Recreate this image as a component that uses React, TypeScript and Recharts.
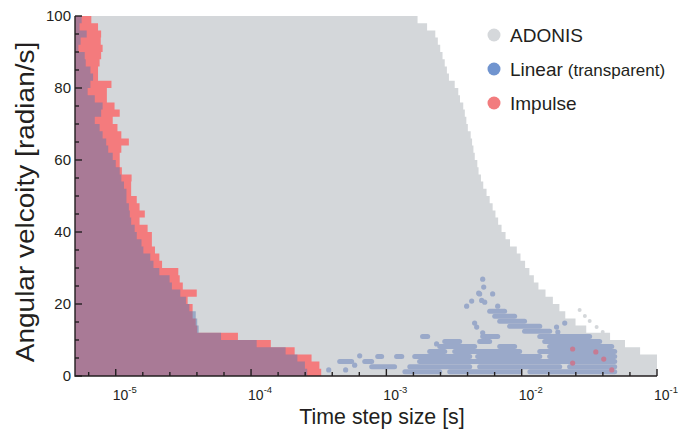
import React from 'react';
import { ComposedChart, Area, Line, Scatter, XAxis, YAxis, Legend } from 'recharts';

// angular velocity rows (each row spans v .. v+2)
const velocity = [
  0, 2, 4, 6, 8, 10, 12, 14, 16, 18, 20, 22, 24, 26, 28, 30, 32, 34, 36, 38, 40,
  42, 44, 46, 48, 50, 52, 54, 56, 58, 60, 62, 64, 66, 68, 70, 72, 74, 76, 78, 80,
  82, 84, 86, 88, 90, 92, 94, 96, 98, 100,
];

// largest stable time step per row [s]
const adonisLimit = [
  0.1, 0.1, 0.1, 0.075, 0.058, 0.045, 0.03, 0.025, 0.021, 0.019, 0.017,
  0.015, 0.0133, 0.0123, 0.0114, 0.0106, 0.0098, 0.0092, 0.0082, 0.0076, 0.0071,
  0.0067, 0.0064, 0.0061, 0.0058, 0.0055, 0.0052, 0.005, 0.0048, 0.0047, 0.0045,
  0.0044, 0.0043, 0.0042, 0.004, 0.0039, 0.0038, 0.0037, 0.0035, 0.0034, 0.0032,
  0.0029, 0.0028, 0.0027, 0.0026, 0.0025, 0.0024, 0.0023, 0.002, 0.0017, 0.0015,
];

const impulseLimit = [
  3.3e-4, 3.2e-4, 2.8e-4, 2.1e-4, 1.4e-4, 8e-5, 4.0e-5, 3.9e-5, 3.7e-5, 3.7e-5, 3.4e-5,
  3.97e-5, 3.13e-5, 2.97e-5, 2.9e-5, 2.2e-5, 2.1e-5, 1.95e-5, 1.85e-5, 1.85e-5, 1.72e-5,
  1.5e-5, 1.64e-5, 1.5e-5, 1.43e-5, 1.3e-5, 1.3e-5, 1.31e-5, 1.11e-5, 1.07e-5, 1.07e-5,
  1.1e-5, 1.25e-5, 1.1e-5, 1.03e-5, 9.5e-6, 1.07e-5, 9.8e-6, 8.6e-6, 8.6e-6, 9.3e-6,
  7.4e-6, 7.4e-6, 7.6e-6, 7.8e-6, 8.0e-6, 7.75e-6, 7.8e-6, 7.4e-6, 6.6e-6, 6.6e-6,
];

const linearLimit = [
  2.6e-4, 2.5e-4, 2.2e-4, 1.8e-4, 1.1e-4, 6e-5, 4.1e-5, 4.0e-5, 3.9e-5, 3.5e-5, 3.3e-5,
  3.0e-5, 2.6e-5, 2.5e-5, 2.1e-5, 1.9e-5, 1.8e-5, 1.6e-5, 1.55e-5, 1.43e-5, 1.38e-5,
  1.3e-5, 1.27e-5, 1.25e-5, 1.2e-5, 1.2e-5, 1.15e-5, 1.1e-5, 1.07e-5, 1.0e-5, 9.5e-6,
  8.8e-6, 8.5e-6, 8.0e-6, 7.6e-6, 7.0e-6, 7.8e-6, 8.0e-6, 7.0e-6, 6.2e-6, 6.5e-6,
  6.8e-6, 6.5e-6, 6.0e-6, 5.9e-6, 5.3e-6, 5.5e-6, 6.1e-6, 5.4e-6, 5.6e-6, 5.6e-6,
];

// stable runs of the linear method at large time steps: [velocity, from, to]
const linearStreaks: [number, number, number][] = [
  [1.2, 1.37e-3, 2.48e-3], [1.2, 2.94e-3, 9.66e-3], [1.2, 1.15e-2, 4.87e-2],
  [2.6, 7.79e-4, 1.15e-3], [2.6, 1.49e-3, 4.13e-3], [2.6, 4.89e-3, 1.91e-2], [2.6, 2.26e-2, 4.87e-2],
  [4.0, 4.52e-4, 5.54e-4], [4.0, 6.92e-4, 7.79e-4], [4.0, 1.76e-3, 4.87e-2],
  [5.4, 8.63e-4, 9.23e-4], [5.4, 1.19e-3, 1.3e-3], [5.4, 1.62e-3, 4.13e-3], [5.4, 4.73e-3, 1.36e-2], [5.4, 1.61e-2, 4.87e-2],
  [6.8, 2.09e-3, 2.7e-3], [6.8, 3.2e-3, 9.66e-3], [6.8, 1.36e-2, 4.87e-2],
  [8.2, 2.48e-3, 4.49e-3], [8.2, 6.88e-3, 8.87e-3], [8.2, 1.61e-2, 4.63e-2],
  [9.6, 2.7e-3, 3.48e-3], [9.6, 4.89e-3, 5.8e-3], [9.6, 1.48e-2, 3.77e-2],
  [11, 1.85e-3, 2.02e-3], [11, 5.15e-3, 6.65e-3], [11, 1.36e-2, 3.18e-2],
  [12.4, 1.05e-2, 1.61e-2],
  [13.8, 8.15e-3, 1.36e-2],
  [15.2, 6.88e-3, 1.05e-2],
  [16.6, 6.32e-3, 8.87e-3],
  [18, 5.8e-3, 7.48e-3],
];

// isolated stable points: [time step, velocity]
const linearDots: [number, number][] = [
  [5.15e-3, 26.9], [5.24e-3, 24.7], [4.81e-3, 23], [4.89e-3, 22.8], [6.1e-3, 22.8],
  [4.27e-3, 20.8], [3.92e-3, 19.4], [5.06e-3, 21], [5.33e-3, 20.5], [6.65e-3, 19.4],
  [4.49e-3, 14.7], [4.65e-3, 13.6], [5.15e-3, 12], [5.61e-3, 10.8],
  [1.81e-2, 13.6], [2.08e-2, 14.7], [1.85e-2, 12.2],
  [3.75e-4, 1.7], [5.0e-4, 1.7], [5.83e-4, 3.0], [6.35e-4, 5.6], [2.35e-3, 8.9],
];

const impulseDots: [number, number][] = [
  [2.38e-2, 7.5], [3.53e-2, 6.7], [4.04e-2, 4.7], [2.38e-2, 3.6], [4.63e-2, 1.7],
];

const adonisDots: [number, number][] = [
  [2.68e-2, 18.3], [2.93e-2, 16.7], [3.18e-2, 15.3], [3.58e-2, 13.6], [3.97e-2, 12.2], [4.33e-2, 10.8],
];

const xMin = 5e-6;
const xMax = 0.1;
const xTickExps = [
  -5.2, -5, -4.8, -4.6, -4.4, -4.2, -4, -3.8, -3.6, -3.4, -3.2, -3,
  -2.8, -2.6, -2.4, -2.2, -2, -1.8, -1.6, -1.4, -1.2, -1,
];
const yTicks = [0, 5, 10, 15, 20, 25, 30, 35, 40, 45, 50, 55, 60, 65, 70, 75, 80, 85, 90, 95, 100];

const legendItems = [
  { name: 'ADONIS', note: '', color: '#d5d8db' },
  { name: 'Linear', note: '(transparent)', color: '#7094cf' },
  { name: 'Impulse', note: '', color: '#f27c7e' },
];

const ink = '#231f20';
const font = '"Liberation Sans", Arial, Helvetica, sans-serif';

const rows = velocity.map((v, i) => ({
  v,
  adonis: adonisLimit[i],
  impulse: impulseLimit[i],
  linear: linearLimit[i],
}));

const streakSegments = linearStreaks.map(([v, a, b]) => [
  { v, x: a },
  { v, x: b },
]);

const toPoints = (list: [number, number][]) => list.map(([x, v]) => ({ x, v }));

const isMajorExp = (e: number) => Math.abs(e - Math.round(e)) < 1e-6;

// tick anchors on the axes; the marks are drawn inward above the filled regions
const xTickMarks = xTickExps.map((e) => ({ x: Math.pow(10, e), v: 0, major: isMajorExp(e) }));
const yTickMarks = yTicks.map((t) => ({ x: xMin, v: t, major: t % 20 === 0 }));
const axisFrame = [
  { x: xMin, v: 100 },
  { x: xMin, v: 0 },
  { x: xMax, v: 0 },
];

const XTick = (props: any) => {
  const { x, y, payload } = props;
  const exp = Math.round(Math.log10(payload.value) * 10) / 10;
  if (!isMajorExp(exp)) return <g />;
  return (
    <text x={x - 3} y={y + 24} fill={ink} fontSize={14} fontFamily={font} textAnchor="start">
      10
      <tspan dy={-7} fontSize={9.5}>{Math.round(exp)}</tspan>
    </text>
  );
};

const YTick = (props: any) => {
  const { x, y, payload } = props;
  if (payload.value % 20 !== 0) return <g />;
  return (
    <text x={x - 4} y={y + 5} fill={ink} fontSize={15} fontFamily={font} textAnchor="end">
      {payload.value}
    </text>
  );
};

const dotShape = (color: string, r: number) => (p: any) => (
  <circle cx={p.cx} cy={p.cy} r={r} fill={color} />
);

const xMarkShape = (p: any) => {
  const len = p.payload && p.payload.major ? 7 : 4;
  return <rect x={p.cx - 0.7} y={p.cy - len} width={1.4} height={len} fill={ink} />;
};

const yMarkShape = (p: any) => {
  const len = p.payload && p.payload.major ? 7 : 4;
  return <rect x={p.cx} y={p.cy - 0.7} width={len} height={1.4} fill={ink} />;
};

const renderLegend = () => (
  <svg width={200} height={110} style={{ display: 'block' }}>
    {legendItems.map((item, i) => (
      <g key={item.name} transform={`translate(0, ${i * 34})`}>
        <circle cx={14} cy={17} r={6.5} fill={item.color} />
        <text x={30} y={24} fontSize={19} fill={ink} fontFamily={font}>
          {item.name}
          {item.note && (
            <tspan dx={5} fontSize={17}>
              {item.note}
            </tspan>
          )}
        </text>
      </g>
    ))}
  </svg>
);

const YTitle = () => (
  <text
    transform="translate(34, 202) rotate(-90) scale(1.12, 1)"
    textAnchor="middle"
    fontSize={25}
    fill={ink}
    fontFamily={font}
  >
    Angular velcoity [radian/s]
  </text>
);

const XTitle = () => (
  <text
    transform="translate(382, 424) scale(0.93, 1)"
    textAnchor="middle"
    fontSize={23}
    fill={ink}
    fontFamily={font}
  >
    Time step size [s]
  </text>
);

export default function App() {
  return (
    <div style={{ position: 'absolute', left: 0, top: 0, width: 678, height: 437, background: '#fff' }}>
      <ComposedChart
        width={678}
        height={437}
        layout="vertical"
        data={rows}
        margin={{ top: 16, right: 21, left: 0, bottom: 0 }}
      >
        <Area
          type="stepBefore"
          dataKey="adonis"
          fill="#d4d7da"
          fillOpacity={1}
          stroke="none"
          isAnimationActive={false}
        />
        <Scatter data={toPoints(adonisDots)} shape={dotShape('#d4d7da', 2)} isAnimationActive={false} />
        <Area
          type="stepBefore"
          dataKey="impulse"
          fill="#f47b7d"
          fillOpacity={1}
          stroke="none"
          isAnimationActive={false}
        />
        <Area
          type="stepBefore"
          dataKey="linear"
          fill="#5e7ab0"
          fillOpacity={0.5}
          stroke="none"
          isAnimationActive={false}
        />
        {streakSegments.map((seg, i) => (
          <Line
            key={`streak-${i}`}
            data={seg}
            dataKey="x"
            stroke="#9aa9c9"
            strokeWidth={5}
            strokeLinecap="round"
            dot={false}
            activeDot={false}
            isAnimationActive={false}
          />
        ))}
        <Scatter data={toPoints(linearDots)} shape={dotShape('#9aa9c9', 2.6)} isAnimationActive={false} />
        <Scatter data={toPoints(impulseDots)} shape={dotShape('#c67b93', 2.6)} isAnimationActive={false} />
        <Line data={axisFrame} dataKey="x" stroke={ink} strokeWidth={1.4} dot={false} activeDot={false} isAnimationActive={false} />
        <Scatter data={xTickMarks} shape={xMarkShape} isAnimationActive={false} />
        <Scatter data={yTickMarks} shape={yMarkShape} isAnimationActive={false} />
        <XAxis
          type="number"
          dataKey="x"
          scale="log"
          domain={[xMin, xMax]}
          ticks={xTickExps.map((e) => Math.pow(10, e))}
          interval={0}
          tick={<XTick />}
          tickLine={false}
          tickSize={0}
          tickMargin={0}
          height={61}
          axisLine={false}
          label={<XTitle />}
        />
        <YAxis
          type="number"
          dataKey="v"
          domain={[0, 100]}
          reversed
          ticks={yTicks}
          interval={0}
          tick={<YTick />}
          tickLine={false}
          tickSize={0}
          tickMargin={0}
          width={75}
          axisLine={false}
          label={<YTitle />}
        />
        <Legend
          layout="vertical"
          align="center"
          verticalAlign="middle"
          content={renderLegend}
          wrapperStyle={{ position: 'absolute', left: 480, top: 18, width: 200, height: 110 }}
        />
      </ComposedChart>
    </div>
  );
}
